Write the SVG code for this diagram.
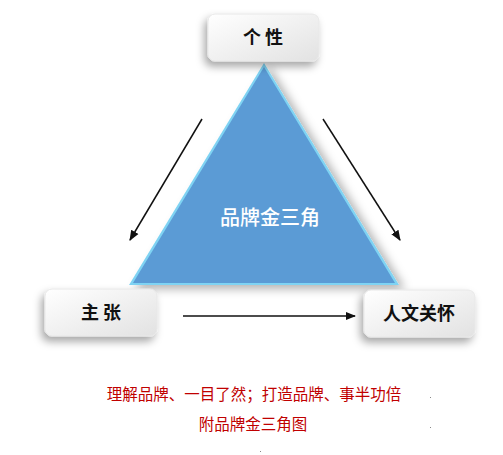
<svg xmlns="http://www.w3.org/2000/svg" width="503" height="455" viewBox="0 0 503 455">
<style>
.box{fill:url(#bg);stroke:#e8e8e8;stroke-width:1;filter:url(#sh)}
.lbl{font-family:"Noto Sans CJK SC","Noto Sans",sans-serif;font-weight:bold;font-size:18px;fill:#111;text-anchor:middle}
.cap{font-family:"Noto Sans CJK SC",sans-serif;font-size:15.5px;fill:#c00000;text-anchor:middle}
.conn{stroke:#111;stroke-width:1.5;fill:none;marker-end:url(#ah)}
</style>
<defs>
<linearGradient id="bg" x1="0" y1="0" x2="1" y2="1">
<stop offset="0" stop-color="#ffffff"/><stop offset="1" stop-color="#e2e2e2"/>
</linearGradient>
<filter id="sh" x="-30%" y="-30%" width="160%" height="170%">
<feDropShadow dx="-3" dy="5" stdDeviation="4" flood-color="#000" flood-opacity="0.35"/>
</filter>
<filter id="tsh" x="-20%" y="-20%" width="150%" height="150%">
<feDropShadow dx="6" dy="4" stdDeviation="5" flood-color="#000" flood-opacity="0.3"/>
</filter>
<marker id="ah" viewBox="0 0 10 10" refX="9" refY="5" markerWidth="7" markerHeight="7" orient="auto">
<path d="M0,1 L10,5 L0,9 z" fill="#111"/>
</marker>
</defs>
<rect width="503" height="455" fill="#fff"/>
<g id="triangle">
<polygon points="264,63 399,285 129,285" fill="#7fd3f3" filter="url(#tsh)"/>
<polygon points="264,67 395,283 133,283" fill="#5b9bd5"/>
<text x="270" y="225" font-family="Noto Sans CJK SC,sans-serif" font-size="20" font-weight="500" fill="#fff" text-anchor="middle">品牌金三角</text>
</g>
<g id="node-gexing">
<rect class="box" x="208" y="14" width="111" height="47" rx="7"/>
<text class="lbl" x="263" y="44">个 性</text>
</g>
<g id="node-zhuzhang">
<rect class="box" x="45" y="289" width="112" height="47" rx="7"/>
<text class="lbl" x="101" y="319">主 张</text>
</g>
<g id="node-renwen">
<rect class="box" x="364" y="290" width="111" height="47" rx="7"/>
<text class="lbl" x="419" y="320">人文关怀</text>
</g>
<g id="connectors">
<line class="conn" x1="202" y1="119" x2="130" y2="240"/>
<line class="conn" x1="323" y1="119" x2="400" y2="240"/>
<line class="conn" x1="183" y1="316" x2="355" y2="316"/>
</g>
<g id="caption">
<text class="cap" x="254" y="400">理解品牌、一目了然；打造品牌、事半功倍</text>
<text class="cap" x="253" y="430">附品牌金三角图</text>
<rect x="430" y="397" width="1" height="1" fill="#888"/>
<rect x="430" y="427" width="1" height="1" fill="#888"/>
<rect x="260" y="451" width="1" height="1" fill="#888"/>
</g>
</svg>
